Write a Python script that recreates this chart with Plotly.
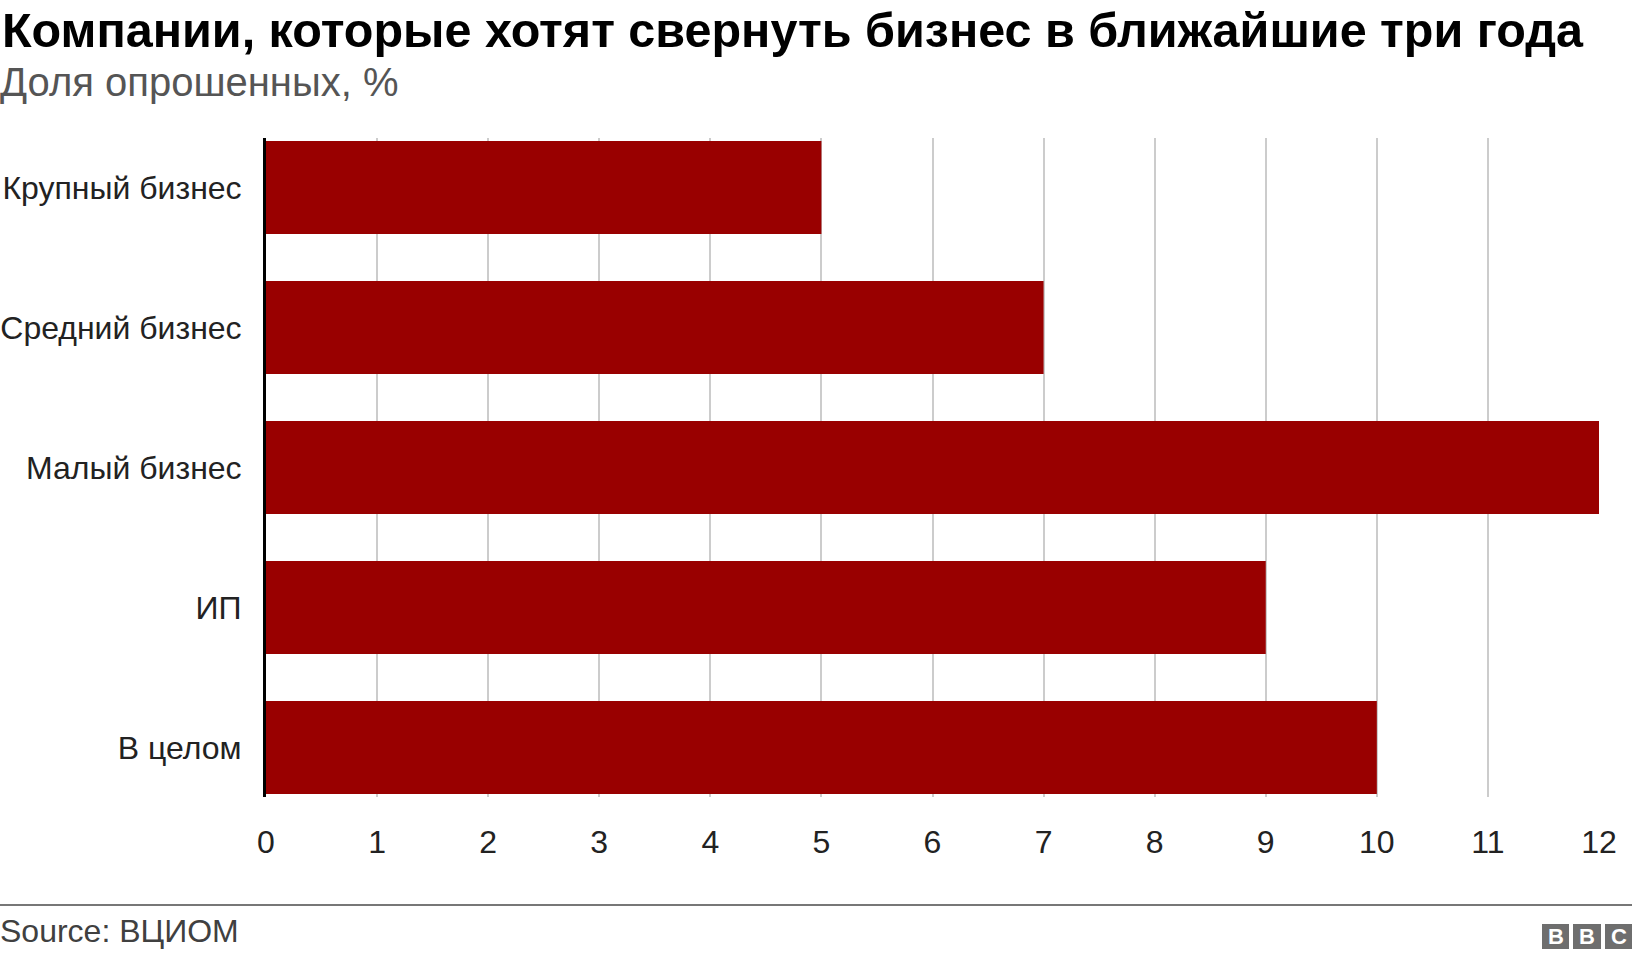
import plotly.graph_objects as go

categories = ["Крупный бизнес", "Средний бизнес", "Малый бизнес", "ИП", "В целом"]
values = [5, 7, 12, 9, 10]
x_ticks = list(range(0, 13))

title_text = "Компании, которые хотят свернуть бизнес в ближайшие три года"
subtitle_text = "Доля опрошенных, %"
source_text = "Source: ВЦИОМ"

W, H = 1632, 960
MT, MB, ML, MR = 138, 163, 266, 33
PH = H - MT - MB
PW = W - ML - MR

def py(ypx):
    return (H - MB - ypx) / PH

def px(xpx):
    return (xpx - ML) / PW

FONT = "Liberation Sans, Arial, sans-serif"

fig = go.Figure()
fig.add_trace(go.Bar(
    y=categories, x=values, orientation="h",
    marker=dict(color="#990000", line=dict(width=0)),
    hoverinfo="x+y",
))

fig.update_layout(
    width=W, height=H,
    margin=dict(l=ML, r=MR, t=MT, b=MB, autoexpand=False),
    paper_bgcolor="white", plot_bgcolor="white",
    bargap=0.336,
    showlegend=False,
    font=dict(family=FONT, color="#222222"),
    xaxis=dict(
        range=[0, 12], tickvals=x_ticks, ticktext=[str(v) for v in x_ticks],
        showgrid=True, gridcolor="#cccccc", gridwidth=1.5,
        zeroline=False, showline=False, automargin=False,
        ticks="outside", ticklen=17, tickcolor="rgba(0,0,0,0)",
        tickfont=dict(size=32, color="#222222", family=FONT),
        fixedrange=True,
    ),
    yaxis=dict(
        categoryorder="array", categoryarray=categories,
        range=[len(categories) - 1 + 0.354, -0.354],
        showgrid=False, zeroline=False, automargin=False,
        showline=True, linecolor="#000000", linewidth=3,
        ticks="outside", ticklen=15, tickcolor="rgba(0,0,0,0)",
        tickfont=dict(size=32, color="#222222", family=FONT),
        fixedrange=True,
    ),
)

annotations = [
    dict(text="<b>" + title_text + "</b>", x=px(0), y=py(30), xref="paper", yref="paper",
         xanchor="left", yanchor="middle", showarrow=False,
         font=dict(size=48.5, color="#000000", family=FONT)),
    dict(text=subtitle_text, x=px(-2), y=py(82), xref="paper", yref="paper",
         xanchor="left", yanchor="middle", showarrow=False,
         font=dict(size=40, color="#555555", family=FONT)),
    dict(text=source_text, x=px(-2), y=py(931), xref="paper", yref="paper",
         xanchor="left", yanchor="middle", showarrow=False,
         font=dict(size=32, color="#404040", family=FONT)),
]

shapes = [
    dict(type="line", xref="paper", yref="paper", x0=px(0), x1=px(W), y0=py(905), y1=py(905),
         line=dict(color="#777777", width=2)),
]

logo_boxes = [(1542, 1569, "B"), (1573, 1601, "B"), (1605, 1632, "C")]
for x0, x1, letter in logo_boxes:
    shapes.append(dict(type="rect", xref="paper", yref="paper",
                       x0=px(x0), x1=px(x1), y0=py(949), y1=py(924),
                       fillcolor="#6e6e6e", line=dict(width=0)))
    annotations.append(dict(text="<b>" + letter + "</b>", x=px((x0 + x1) / 2), y=py(936.5),
                            xref="paper", yref="paper", xanchor="center", yanchor="middle",
                            showarrow=False, font=dict(size=22, color="white", family=FONT)))

fig.update_layout(annotations=annotations, shapes=shapes)

fig.write_html("out.html", config={"displayModeBar": False},
               post_script="document.body.style.margin='0';document.body.style.overflow='hidden';")
